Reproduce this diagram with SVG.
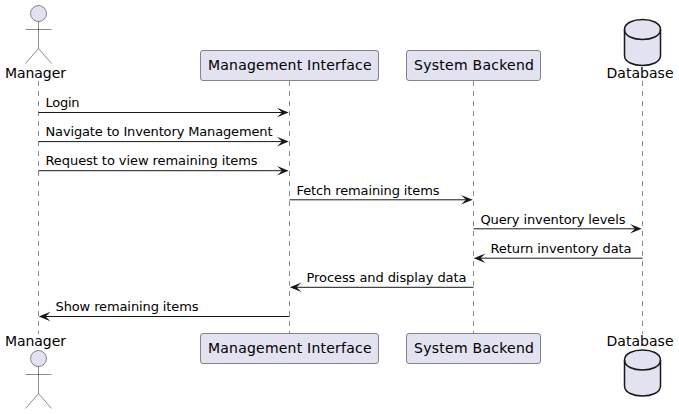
<svg xmlns="http://www.w3.org/2000/svg" width="679" height="414" viewBox="0 0 679 414">
<style>
text{font-family:"DejaVu Sans",sans-serif;fill:#000;font-size:14px}
.m{font-size:13px}
.life{stroke:#181818;stroke-width:.5;stroke-dasharray:5 5;fill:none}
.box{fill:#E2E2F0;stroke:#181818;stroke-width:.5}
.act{fill:none;stroke:#181818;stroke-width:.5}
.head{fill:#E2E2F0;stroke:#181818;stroke-width:.5}
.db{fill:#E2E2F0;stroke:#181818;stroke-width:1.5}
.dbl{fill:none;stroke:#181818;stroke-width:1.5}
.msg{stroke:#181818;stroke-width:1;fill:none}
.ah{fill:#181818;stroke:none}
</style>
<rect width="679" height="414" fill="#fff"/>
<g id="lifelines">
<line class="life" x1="38.5" y1="81" x2="38.5" y2="334"/>
<line class="life" x1="289.5" y1="81" x2="289.5" y2="334"/>
<line class="life" x1="473.5" y1="81" x2="473.5" y2="334"/>
<line class="life" x1="642.5" y1="81" x2="642.5" y2="334"/>
</g>
<g id="connectors">
<line class="msg" x1="38.5" y1="112.5" x2="284" y2="112.5"/><polygon class="ah" points="277,107.7 288.7,112.5 277,117.3 282,112.5"/>
<line class="msg" x1="38.5" y1="141.6" x2="284" y2="141.6"/><polygon class="ah" points="277,136.8 288.7,141.6 277,146.4 282,141.6"/>
<line class="msg" x1="38.5" y1="170.7" x2="284" y2="170.7"/><polygon class="ah" points="277,165.9 288.7,170.7 277,175.5 282,170.7"/>
<line class="msg" x1="289.5" y1="199.8" x2="468" y2="199.8"/><polygon class="ah" points="461,195 472.7,199.8 461,204.6 466,199.8"/>
<line class="msg" x1="473.5" y1="228.8" x2="637" y2="228.8"/><polygon class="ah" points="630,224 641.7,228.8 630,233.6 635,228.8"/>
<line class="msg" x1="479" y1="258.2" x2="642.5" y2="258.2"/><polygon class="ah" points="485.5,253.4 473.8,258.2 485.5,263 480.5,258.2"/>
<line class="msg" x1="295" y1="287.3" x2="473.5" y2="287.3"/><polygon class="ah" points="301.5,282.5 289.8,287.3 301.5,292.1 296.5,287.3"/>
<line class="msg" x1="44" y1="316.5" x2="289.5" y2="316.5"/><polygon class="ah" points="50.5,311.7 38.8,316.5 50.5,321.3 45.5,316.5"/>
</g>
<g id="labels">
<text class="m" x="45.5" y="107" textLength="34">Login</text>
<text class="m" x="45.5" y="136" textLength="227">Navigate to Inventory Management</text>
<text class="m" x="45.5" y="165" textLength="212">Request to view remaining items</text>
<text class="m" x="296.5" y="195" textLength="143">Fetch remaining items</text>
<text class="m" x="480.5" y="224" textLength="145">Query inventory levels</text>
<text class="m" x="490.5" y="253" textLength="141">Return inventory data</text>
<text class="m" x="306.5" y="282" textLength="160">Process and display data</text>
<text class="m" x="55.5" y="311" textLength="143">Show remaining items</text>
</g>
<g id="manager-top">
<circle class="head" cx="38.5" cy="13.5" r="8"/>
<path class="act" d="M38.5 21.5V48.5M25.5 29.5H51.5M38.5 48.5L25.5 63.5M38.5 48.5L51.5 63.5"/>
<text x="5" y="78" textLength="61">Manager</text>
</g>
<g id="manager-bottom">
<text x="5" y="346" textLength="61">Manager</text>
<circle class="head" cx="38.5" cy="358.5" r="8"/>
<path class="act" d="M38.5 366.5V393.5M25.5 374.5H51.5M38.5 393.5L25.5 408.5M38.5 393.5L51.5 408.5"/>
</g>
<g id="interface-top">
<rect class="box" x="200.5" y="50.5" width="178" height="30" rx="2.5"/>
<text x="208" y="70" textLength="163.5">Management Interface</text>
</g>
<g id="interface-bottom">
<rect class="box" x="200.5" y="333.5" width="178" height="30" rx="2.5"/>
<text x="208" y="353" textLength="163.5">Management Interface</text>
</g>
<g id="backend-top">
<rect class="box" x="406.5" y="50.5" width="134" height="30" rx="2.5"/>
<text x="414" y="70" textLength="120">System Backend</text>
</g>
<g id="backend-bottom">
<rect class="box" x="406.5" y="333.5" width="134" height="30" rx="2.5"/>
<text x="414" y="353" textLength="120">System Backend</text>
</g>
<g id="database-top">
<path class="db" d="M624.5 29.5C624.5 16.2 660.5 16.2 660.5 29.5V55.5C660.5 68.8 624.5 68.8 624.5 55.5Z"/>
<path class="dbl" d="M624.5 29.5C624.5 42.8 660.5 42.8 660.5 29.5"/>
<text x="606.5" y="78" textLength="67">Database</text>
</g>
<g id="database-bottom">
<text x="606.5" y="346" textLength="67">Database</text>
<path class="db" d="M624.5 360C624.5 346.7 660.5 346.7 660.5 360V386C660.5 399.3 624.5 399.3 624.5 386Z"/>
<path class="dbl" d="M624.5 360C624.5 373.3 660.5 373.3 660.5 360"/>
</g>
</svg>
